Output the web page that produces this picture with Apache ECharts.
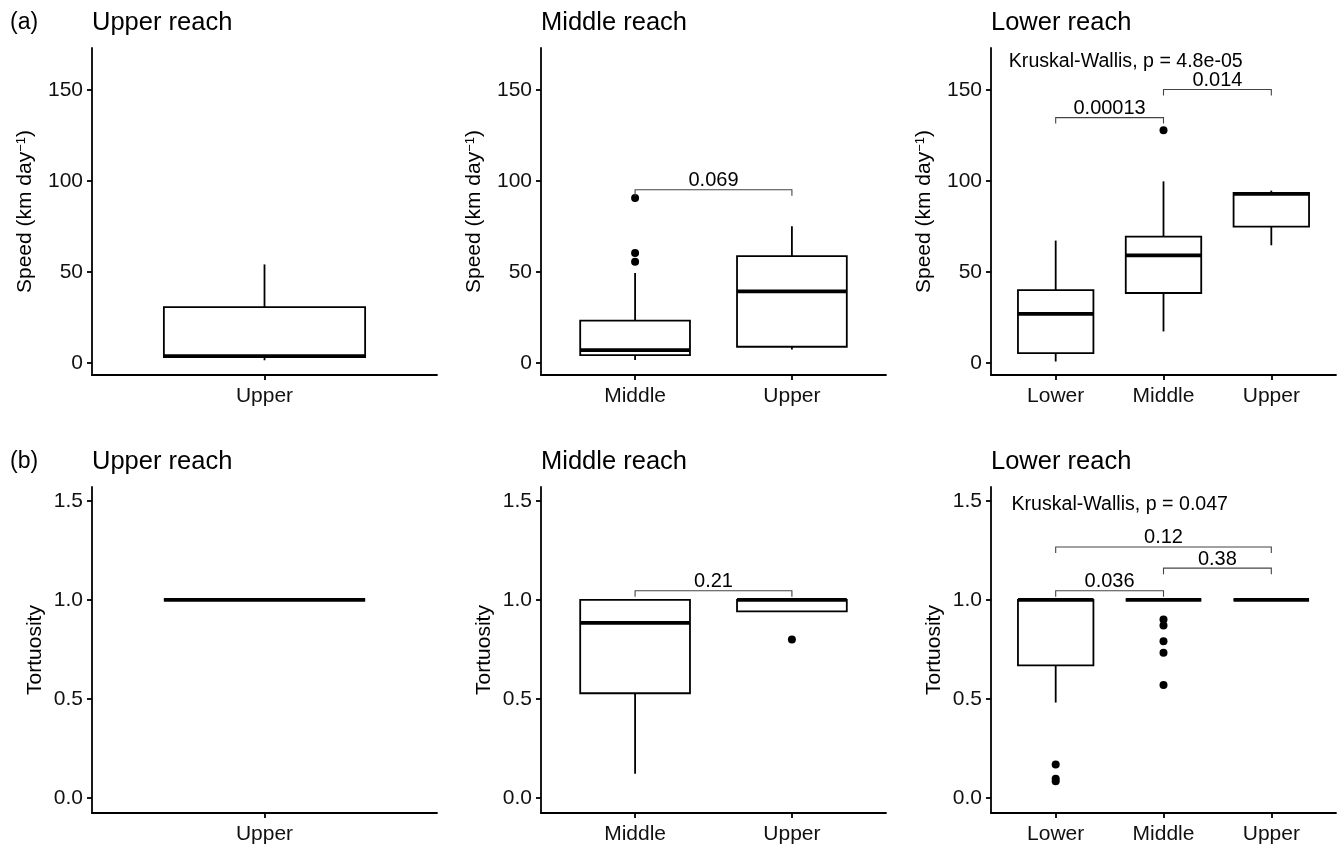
<!DOCTYPE html>
<html>
<head>
<meta charset="utf-8">
<script src="https://cdn.jsdelivr.net/npm/echarts@6/dist/echarts.min.js"></script>
<style>
  html, body { margin: 0; padding: 0; background: #fff; }
  #chart { width: 1340px; height: 845px; }
</style>
</head>
<body>
<div id="chart"></div>
<script>
// ---------------- DATA ----------------
const catsUpperReach = ['Upper'];
const catsMiddleReach = ['Middle', 'Upper'];
const catsLowerReach = ['Lower', 'Middle', 'Upper'];

// box stats: [x index, low whisker, Q1, median, Q3, high whisker]
const speedUpperBoxes = [[1, 1.6, 3.3, 3.9, 30.8, 54.2]];
const speedMiddleBoxes = [[1, 1.7, 4.4, 7.2, 23.3, 49.5], [2, 7.5, 9.0, 39.4, 58.7, 75.2]];
const speedLowerBoxes = [[1, 0.9, 5.5, 27.1, 40.1, 67.3], [2, 17.4, 38.5, 59.2, 69.5, 99.8], [3, 64.7, 75.0, 92.9, 93.4, 94.7]];
const speedUpperOutliers = [];
const speedMiddleOutliers = [[1, 90.6], [1, 60.5], [1, 55.6]];
const speedLowerOutliers = [[2, 127.9]];

const tortUpperBoxes = [[1, 1.0, 1.0, 1.0, 1.0, 1.0]];
const tortMiddleBoxes = [[1, 0.121, 0.528, 0.884, 1.0, 1.0], [2, 0.942, 0.942, 1.0, 1.0, 1.0]];
const tortLowerBoxes = [[1, 0.481, 0.669, 1.0, 1.0, 1.0], [2, 1.0, 1.0, 1.0, 1.0, 1.0], [3, 1.0, 1.0, 1.0, 1.0, 1.0]];
const tortUpperOutliers = [];
const tortMiddleOutliers = [[2, 0.80]];
const tortLowerOutliers = [[1, 0.168], [1, 0.096], [1, 0.084], [2, 0.900], [2, 0.870], [2, 0.791], [2, 0.733], [2, 0.570]];

// brackets: [x1, x2, y, p-label]
const speedMiddleBrackets = [[1, 2, 95.2, '0.069']];
const speedLowerBrackets = [[1, 2, 134.8, '0.00013'], [2, 3, 150.2, '0.014']];
const tortMiddleBrackets = [[1, 2, 1.046, '0.21']];
const tortLowerBrackets = [[1, 2, 1.046, '0.036'], [2, 3, 1.160, '0.38'], [1, 3, 1.267, '0.12']];

// Kruskal-Wallis annotations: [x, y, label]
const speedLowerKW = [[0.565, 165.3, 'Kruskal-Wallis, p = 4.8e-05']];
const tortLowerKW = [[0.59, 1.480, 'Kruskal-Wallis, p = 0.047']];

const speedTicks = [0, 50, 100, 150];
const tortTicks = [0, 0.5, 1.0, 1.5];
const panelTitles = ['Upper reach', 'Middle reach', 'Lower reach'];
const rowTags = ['(a)', '(b)'];

// ---------------- LAYOUT ----------------
const FONT = "'Liberation Sans', Arial, Helvetica, sans-serif";
const colLeft = [92, 541, 991];
const gridW = 345;
const rowTop = [48, 487];
const gridH = 327;

const panels = [
  { row: 0, col: 0, cats: catsUpperReach, boxes: speedUpperBoxes, out: speedUpperOutliers, br: [], kw: [] },
  { row: 0, col: 1, cats: catsMiddleReach, boxes: speedMiddleBoxes, out: speedMiddleOutliers, br: speedMiddleBrackets, kw: [] },
  { row: 0, col: 2, cats: catsLowerReach, boxes: speedLowerBoxes, out: speedLowerOutliers, br: speedLowerBrackets, kw: speedLowerKW },
  { row: 1, col: 0, cats: catsUpperReach, boxes: tortUpperBoxes, out: tortUpperOutliers, br: [], kw: [] },
  { row: 1, col: 1, cats: catsMiddleReach, boxes: tortMiddleBoxes, out: tortMiddleOutliers, br: tortMiddleBrackets, kw: [] },
  { row: 1, col: 2, cats: catsLowerReach, boxes: tortLowerBoxes, out: tortLowerOutliers, br: tortLowerBrackets, kw: tortLowerKW }
];

const grids = [], xAxes = [], yAxes = [], series = [], graphics = [];

function boxRender(params, api) {
  const x = api.value(0);
  const lo = api.value(1), q1 = api.value(2), md = api.value(3), q3 = api.value(4), hi = api.value(5);
  const half = 0.35;
  const tl = api.coord([x - half, q3]);
  const br = api.coord([x + half, q1]);
  const cHi = api.coord([x, hi]);
  const cLo = api.coord([x, lo]);
  const m = api.coord([x, md]);
  const ls = { stroke: '#000', lineWidth: 1.8 };
  return {
    type: 'group',
    children: [
      { type: 'line', shape: { x1: cHi[0], y1: cHi[1], x2: cHi[0], y2: tl[1] }, style: ls },
      { type: 'line', shape: { x1: cLo[0], y1: br[1], x2: cLo[0], y2: cLo[1] }, style: ls },
      { type: 'rect', shape: { x: tl[0], y: tl[1], width: br[0] - tl[0], height: br[1] - tl[1] },
        style: { fill: '#fff', stroke: '#000', lineWidth: 1.8 } },
      { type: 'line', shape: { x1: tl[0], y1: m[1], x2: br[0], y2: m[1] },
        style: { stroke: '#000', lineWidth: 3.8 } }
    ]
  };
}

function makeBracketRender(list) {
  return function (params, api) {
    const a = api.coord([api.value(0), api.value(2)]);
    const b = api.coord([api.value(1), api.value(2)]);
    const tip = 6;
    return {
      type: 'group',
      children: [
        { type: 'polyline', shape: { points: [[a[0], a[1] + tip], [a[0], a[1]], [b[0], b[1]], [b[0], b[1] + tip]] },
          style: { stroke: '#444', lineWidth: 1.1, fill: null } },
        { type: 'text', x: (a[0] + b[0]) / 2, y: a[1] + 1,
          style: { text: list[params.dataIndex][3], align: 'center', verticalAlign: 'bottom',
                   font: '20px ' + FONT, fill: '#000' } }
      ]
    };
  };
}

function makeKWRender(list) {
  return function (params, api) {
    const p = api.coord([api.value(0), api.value(1)]);
    return {
      type: 'text', x: p[0], y: p[1],
      style: { text: list[params.dataIndex][2], align: 'left', verticalAlign: 'middle',
               font: '19.6px ' + FONT, fill: '#000' }
    };
  };
}

panels.forEach((p, i) => {
  const isSpeed = p.row === 0;
  grids.push({ left: colLeft[p.col], top: rowTop[p.row], width: gridW, height: gridH, containLabel: false });
  const n = p.cats.length;
  const catIdx = p.cats.map((c, k) => k + 1);
  xAxes.push({
    type: 'value', gridIndex: i, min: 0.4, max: n + 0.6,
    splitLine: { show: false },
    axisLine: { show: true, onZero: false, lineStyle: { color: '#000', width: 1.8 } },
    axisTick: { show: true, customValues: catIdx, length: 5, lineStyle: { color: '#000', width: 1.8 } },
    axisLabel: { customValues: catIdx, margin: 11, color: '#111', fontSize: 21, fontFamily: FONT,
                 formatter: (v) => p.cats[Math.round(v) - 1] || '' }
  });
  yAxes.push({
    type: 'value', gridIndex: i,
    min: isSpeed ? -6.5 : -0.077, max: isSpeed ? 173 : 1.57,
    splitLine: { show: false },
    axisLine: { show: true, onZero: false, lineStyle: { color: '#000', width: 1.8 } },
    axisTick: { show: true, customValues: isSpeed ? speedTicks : tortTicks, length: 5,
                lineStyle: { color: '#000', width: 1.8 } },
    axisLabel: { customValues: isSpeed ? speedTicks : tortTicks, margin: 9, color: '#111', fontSize: 21,
                 fontFamily: FONT, formatter: (v) => isSpeed ? String(Math.round(v)) : v.toFixed(1) },
    name: isSpeed ? 'Speed (km day{sup|−1})' : 'Tortuosity',
    nameLocation: 'middle',
    nameGap: isSpeed ? 56 : 46,
    nameTextStyle: { fontSize: 21, fontFamily: FONT, color: '#000',
                     rich: { sup: { fontSize: 13, fontFamily: FONT, color: '#000', verticalAlign: 'top', padding: [0, 0, 7, 0] } } }
  });
  series.push({
    type: 'custom', xAxisIndex: i, yAxisIndex: i, clip: false,
    renderItem: boxRender, data: p.boxes, encode: { x: 0, y: [1, 2, 3, 4, 5] }, z: 2
  });
  if (p.out.length) {
    series.push({
      type: 'scatter', xAxisIndex: i, yAxisIndex: i, data: p.out,
      symbol: 'circle', symbolSize: 8, itemStyle: { color: '#000', opacity: 1 }, z: 3
    });
  }
  if (p.br.length) {
    series.push({
      type: 'custom', xAxisIndex: i, yAxisIndex: i, clip: false,
      renderItem: makeBracketRender(p.br), data: p.br.map(r => [r[0], r[1], r[2]]),
      encode: { x: [0, 1], y: 2 }, z: 4
    });
  }
  if (p.kw.length) {
    series.push({
      type: 'custom', xAxisIndex: i, yAxisIndex: i, clip: false,
      renderItem: makeKWRender(p.kw), data: p.kw.map(r => [r[0], r[1]]),
      encode: { x: 0, y: 1 }, z: 4
    });
  }
});

// titles
const titleY = [22.5, 461.5];
[0, 1].forEach(r => {
  graphics.push({ type: 'text', x: 10, y: titleY[r],
    style: { text: rowTags[r], font: '23px ' + FONT, fill: '#000', verticalAlign: 'middle', align: 'left' } });
  [0, 1, 2].forEach(c => {
    graphics.push({ type: 'text', x: colLeft[c], y: titleY[r],
      style: { text: panelTitles[c], font: '25.5px ' + FONT, fill: '#000', verticalAlign: 'middle', align: 'left' } });
  });
});

const chart = echarts.init(document.getElementById('chart'), null, { renderer: 'canvas' });
chart.setOption({
  animation: false,
  backgroundColor: '#fff',
  grid: grids,
  xAxis: xAxes,
  yAxis: yAxes,
  series: series,
  graphic: graphics
});
</script>
</body>
</html>
